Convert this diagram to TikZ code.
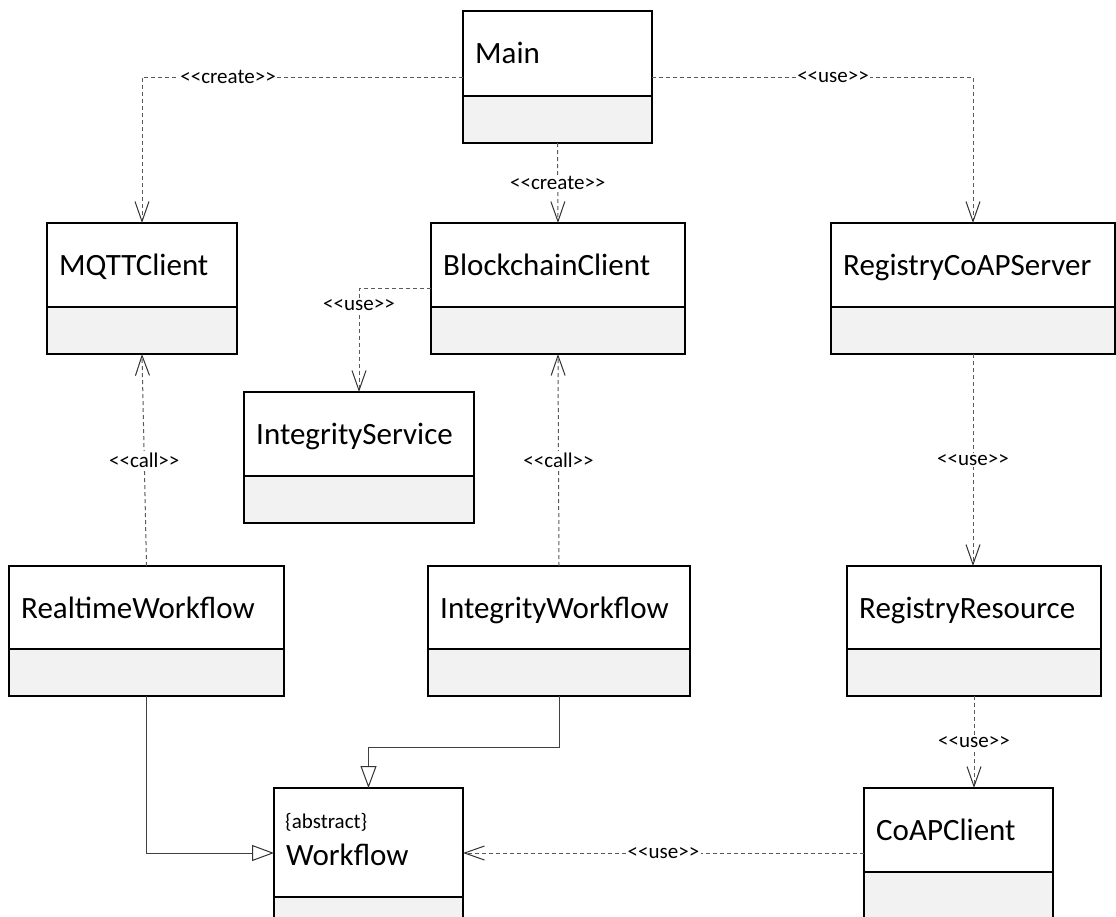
\documentclass[tikz,border=0pt]{standalone}
\usepackage{fontspec}
\setmainfont{Carlito}
\usetikzlibrary{arrows.meta,calc}
\definecolor{compgray}{HTML}{F2F2F2}
\definecolor{depgray}{HTML}{5A5A5A}
\definecolor{gengray}{HTML}{404040}
\newcommand{\ster}[1]{\textless\kern0pt\textless\kern0pt#1\kern0pt\textgreater\kern0pt\textgreater}
\tikzset{
  boxline/.style={line width=2pt, draw=black},
  comp/.style={fill=compgray},
  classname/.style={font=\fontsize{31}{37}\selectfont, inner sep=0pt, anchor=base west},
  abstracttag/.style={font=\fontsize{21}{25}\selectfont, inner sep=0pt, anchor=base west},
  stereo/.style={font=\fontsize{21}{25}\selectfont, fill=white, inner sep=1.5pt, text=black},
  dep/.style={draw=depgray, line width=1pt, dash pattern=on 4pt off 3pt,
    -{Straight Barb[length=20pt,width=14pt,line width=1pt,color=black!80]}},
  gen/.style={draw=gengray, line width=1pt,
    -{Triangle[open,length=22pt,width=16pt,line width=1pt,fill=white,color=black!80]}},
  classnode/.style={inner sep=0pt, outer sep=0pt, draw=none}
}
% name, x1, y1, x2, ydiv, y2, text ; optional baseline offset
\newcommand{\umlclass}[8][52]{%
  \path[comp] (#3,#6) rectangle (#5,#7);
  \draw[boxline] (#3,#4) rectangle (#5,#7) (#3,#6) -- (#5,#6);
  \node[classnode, minimum width={(#5-#3)*1pt}, minimum height={(#7-#4)*1pt}] (#2) at ({(#3+#5)/2},{(#4+#7)/2}) {};
  \node[classname] (#2-name) at (#3+12,#4+#1) {#8};
}
\begin{document}
\begin{tikzpicture}[x=1pt,y=-1pt]
\path[use as bounding box, clip] (0,0) rectangle (1116,916);
\fill[white] (0,0) rectangle (1116,916);

\umlclass{main}{463}{11}{652}{96}{143}{Main}
\umlclass{mqtt}{47}{223}{237}{307}{354}{MQTTClient}
\umlclass{bc}{431}{223}{685}{307}{354}{BlockchainClient}
\umlclass{rcs}{831}{223}{1115}{307}{354}{RegistryCoAPServer}
\umlclass{is}{244}{392}{474}{476}{523}{IntegrityService}
\umlclass{rt}{9}{566}{284}{649}{696}{RealtimeWorkflow}
\umlclass{iw}{428}{566}{690}{649}{696}{IntegrityWorkflow}
\umlclass{rr}{847}{566}{1101}{649}{696}{RegistryResource}
\umlclass[77]{wf}{274}{788}{463}{897}{944}{Workflow}
\node[abstracttag] (wf-abstract) at (285,828) {\{abstract\}};
\umlclass{coap}{864}{788}{1053}{872}{920}{CoAPClient}

% dependencies
\draw[dep] (main.west) -| node[stereo, pos=0.366] {\ster{create}} (mqtt.north);
\draw[dep] (main.south) -- node[stereo, pos=0.5] {\ster{create}} (bc.north);
\draw[dep] (main.east) -| node[stereo, pos=0.282] {\ster{use}} (rcs.north);
\draw[dep] (bc.west) -| node[stereo, pos=0.58] {\ster{use}} (is.north);
\draw[dep] (rt.north) -- node[stereo, pos=0.5] {\ster{call}} (mqtt.south);
\draw[dep] (iw.north) -- node[stereo, pos=0.5] {\ster{call}} (bc.south);
\draw[dep] (rcs.south) -- node[stereo, pos=0.5] {\ster{use}} (rcs.south |- rr.north);
\draw[dep] (rr.south) -- node[stereo, pos=0.5] {\ster{use}} (rr.south |- coap.north);
\draw[dep] ($(coap.north west)+(0,65)$) -- node[stereo, pos=0.5] {\ster{use}} ($(wf.north east)+(0,65)$);

% generalizations
\draw[gen] (iw.south) -- ++(0,51) -| (wf.north);
\draw[gen] (rt.south) |- ($(wf.north west)+(0,65)$);
\end{tikzpicture}
\end{document}
